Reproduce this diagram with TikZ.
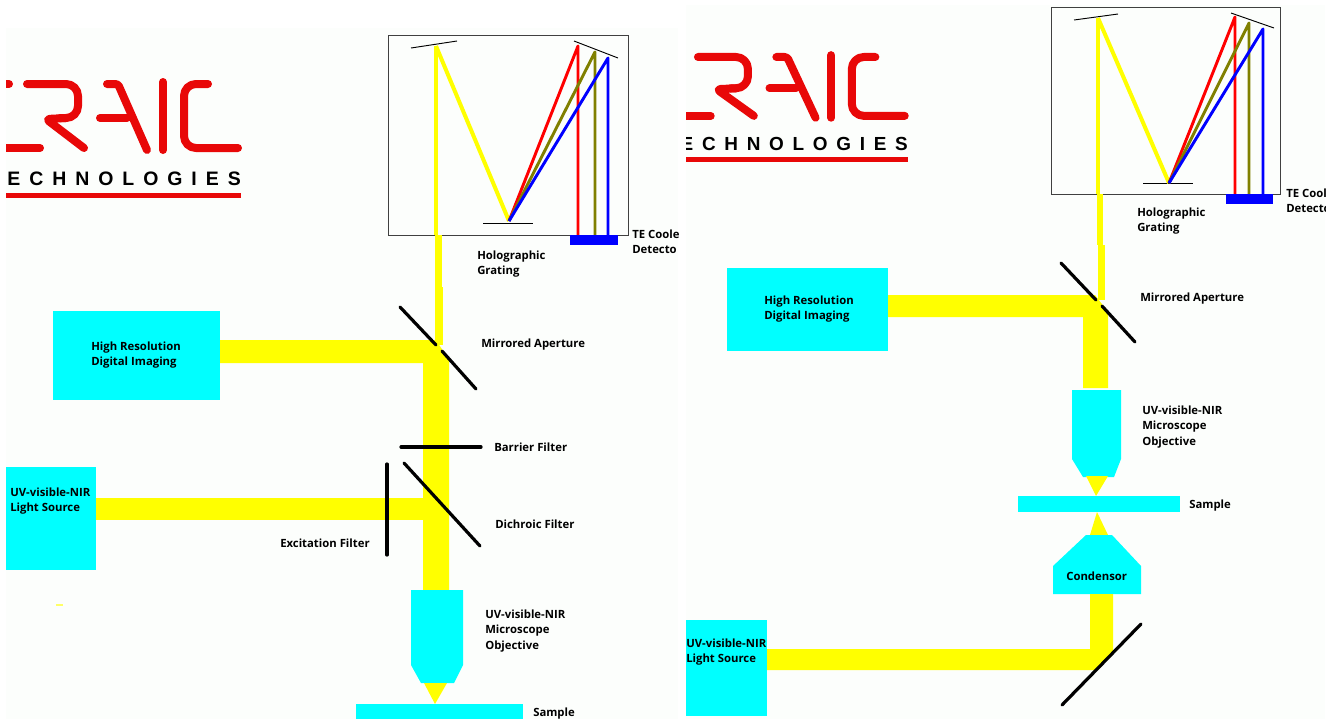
\documentclass[tikz,border=0pt]{standalone}
\usepackage{fontspec}
\setmainfont{Open Sans}
\newfontfamily\logofont[LetterSpace=46]{Liberation Sans}
\definecolor{panelbg}{HTML}{FCFEFC}
\definecolor{logored}{HTML}{E80808}
\definecolor{beamolive}{HTML}{808000}
\definecolor{cyanfill}{RGB}{0,255,255}
\definecolor{yellowfill}{RGB}{255,255,0}
\definecolor{redray}{RGB}{255,0,0}
\definecolor{blueray}{RGB}{0,0,255}
\tikzset{
  lbl/.style={anchor=west,inner sep=0pt,align=left,text=black,font=\fontsize{8.5}{11.3}\selectfont\bfseries},
  cyanbox/.style={fill=cyanfill,draw=none},
  beam/.style={fill=yellowfill,draw=none},
  blackbar/.style={draw=black,line width=2.4pt,line cap=round},
  thinbar/.style={draw=black,line width=0.7pt},
  specbox/.style={draw=black!75,line width=0.8pt,fill=none},
  yray/.style={draw=yellowfill,line width=3pt,line join=round},
  rray/.style={draw=redray,line width=2.2pt,line join=round},
  oray/.style={draw=beamolive,line width=2.2pt,line join=round},
  bray/.style={draw=blueray,line width=2.2pt,line join=round},
  logostroke/.style={draw=logored,line width=6pt,line cap=round,line join=round},
}
\newcommand{\craiclogo}{%
  \draw[logostroke] (0,84) -- (9,84);
  \draw[logostroke] (0,148) -- (40,148);
  \draw[logostroke,rounded corners=9pt] (27,84) -- (78,84) -- (78,118) -- (60,118);
  \draw[logostroke,rounded corners=3pt] (66,118) -- (46,119) -- (84,148);
  \draw[logostroke,rounded corners=2pt] (107,84) -- (118,84) -- (147,150);
  \draw[logostroke] (100,118) -- (127,118);
  \draw[logostroke] (163,82) -- (163,150);
  \draw[logostroke,rounded corners=9pt] (208,84) -- (184,84) -- (184,148) -- (238,148);
  \fill[logored] (0,193) rectangle (241,198);
}
\begin{document}
\begin{tikzpicture}[x=0.75pt,y=-0.75pt]
\useasboundingbox (0,0) rectangle (1331,719);
\fill[white] (0,0) rectangle (1331,719);
\fill[panelbg] (6,28) rectangle (678,719);
\fill[panelbg] (686,5) rectangle (1325,719);

% ---------- left panel ----------
\begin{scope}
\clip (6,28) rectangle (678,719);
\craiclogo
\node[anchor=east,inner sep=0pt,font=\fontsize{14.6}{16}\logofont\bfseries,text=black] (logotextL) at (241,179) {ECHNOLOGIES};

\node[specbox,minimum width=180pt,minimum height=150pt,inner sep=0pt,anchor=north west] (specL) at (388,35) {};
\draw[thinbar] (411,48) -- (457,41);
\draw[thinbar] (574,41) -- (618,58);
\draw[thinbar] (483,223) -- (533,223);
\draw[yray] (436,46) -- (436,235);
\draw[yray] (436,46) -- (509,221);
\draw[rray] (509,221) -- (578,46) -- (578,235);
\draw[oray] (509,221) -- (595,52) -- (595,235);
\draw[bray] (509,221) -- (608,58) -- (608,235);
\fill[blueray] (570,235) rectangle (618,245);
\fill[beam] (435,235) rectangle (442,287);
\fill[beam] (435,287) rectangle (443,345);

\fill[beam] (220,340) -- (436,340) -- (449,360) -- (449,590) -- (423,590) -- (423,363) -- (220,363) -- cycle;
\fill[beam] (96,498) rectangle (423,520);
\draw[blackbar] (400,307) -- (436,345);
\draw[blackbar] (442,351) -- (476,389);
\draw[blackbar] (401,447) -- (481,447);
\draw[blackbar] (404,463) -- (480,546);
\draw[blackbar] (387,464) -- (387,555);
\fill[yellowfill!60] (56,604) rectangle (63,606);

\node[cyanbox,minimum width=125.25pt,minimum height=66.75pt,inner sep=0pt,anchor=north west] (hrL) at (53,311) {};
\node[cyanbox,minimum width=67.5pt,minimum height=77.25pt,inner sep=0pt,anchor=north west] (lsL) at (6,467) {};
\fill[cyanfill] (411,590) -- (463,590) -- (463,665) -- (454,683) -- (421,683) -- (411,665) -- cycle;
\fill[beam] (424,683) -- (447,683) -- (435,704) -- cycle;
\fill[cyanfill] (356,704) rectangle (523,719);

\node[lbl] (l1) at (91,355) {High Resolution\\Digital Imaging};
\node[lbl] (l2) at (10,501) {UV-visible-NIR\\Light Source};
\node[lbl] (l3) at (481,344.5) {Mirrored Aperture};
\node[lbl] (l4) at (494,447) {Barrier Filter};
\node[lbl] (l5) at (495,524) {Dichroic Filter};
\node[lbl] (l6) at (280,543) {Excitation Filter};
\node[lbl] (l7) at (485,631) {UV-visible-NIR\\Microscope\\Objective};
\node[lbl] (l8) at (533,714) {Sample};
\node[lbl] (l9) at (477,264) {Holographic\\Grating};
\node[lbl] (l10) at (632,241.5) {TE Coole\\Detecto};
\end{scope}

% ---------- right panel ----------
\begin{scope}
\clip (686,5) rectangle (1325,719);
\begin{scope}[shift={(671.5*0.75pt,20.3*0.75pt)},xscale=0.98,yscale=0.92]
\craiclogo
\end{scope}
\node[anchor=east,inner sep=0pt,font=\fontsize{14.2}{16}\logofont\bfseries,text=black] (logotextR) at (908,144) {ECHNOLOGIES};

\node[specbox,minimum width=171.75pt,minimum height=140.25pt,inner sep=0pt,anchor=north west] (specR) at (1051,7) {};
\draw[thinbar] (1074,20) -- (1118,14);
\draw[thinbar] (1231,13) -- (1274,28);
\draw[thinbar] (1143,183) -- (1193,183);
\draw[yray] (1098,18) -- (1098,194);
\draw[yray] (1098,18) -- (1169,183);
\draw[rray] (1169,183) -- (1235,17) -- (1235,194);
\draw[oray] (1169,183) -- (1249,23) -- (1249,194);
\draw[bray] (1169,183) -- (1263,29) -- (1263,194);
\fill[blueray] (1226,194) rectangle (1273,204);
\fill[beam] (1097,194) rectangle (1103,245);
\fill[beam] (1098,245) rectangle (1105,300);

\fill[beam] (888,295) -- (1095,295) -- (1108,312) -- (1108,388) -- (1083,388) -- (1083,317) -- (888,317) -- cycle;
\draw[blackbar] (1061,263) -- (1096,300);
\draw[blackbar] (1102,306) -- (1135,342);

\node[cyanbox,minimum width=120.75pt,minimum height=62.25pt,inner sep=0pt,anchor=north west] (hrR) at (727,268) {};
\fill[cyanfill] (1072,390) -- (1121,390) -- (1121,459) -- (1114,477) -- (1083,477) -- (1072,459) -- cycle;
\fill[beam] (1086,476) -- (1108,476) -- (1096,496) -- cycle;
\fill[cyanfill] (1018,496) rectangle (1180,512);
\fill[beam] (1097,512) -- (1108,535) -- (1090,535) -- cycle;
\fill[cyanfill] (1086,535) -- (1112,535) -- (1141,566) -- (1141,594) -- (1053,594) -- (1053,566) -- cycle;
\fill[beam] (767,649) -- (1090,649) -- (1090,594) -- (1113,594) -- (1113,653) -- (1096,670) -- (767,670) -- cycle;
\draw[blackbar] (1062,705) -- (1141,624);
\node[cyanbox,minimum width=60.75pt,minimum height=72pt,inner sep=0pt,anchor=north west] (lsR) at (686,620) {};

\node[lbl] (r1) at (764,309) {High Resolution\\Digital Imaging};
\node[lbl] (r2) at (686,652) {UV-visible-NIR\\Light Source};
\node[lbl] (r3) at (1140,298.5) {Mirrored Aperture};
\node[lbl] (r4) at (1142,427) {UV-visible-NIR\\Microscope\\Objective};
\node[lbl] (r5) at (1189,506) {Sample};
\node[lbl] (r6) at (1066,576.5) {Condensor};
\node[lbl] (r7) at (1137,221) {Holographic\\Grating};
\node[lbl] (r8) at (1286,200.5) {TE Coole\\Detecto};
\end{scope}
\end{tikzpicture}
\end{document}
